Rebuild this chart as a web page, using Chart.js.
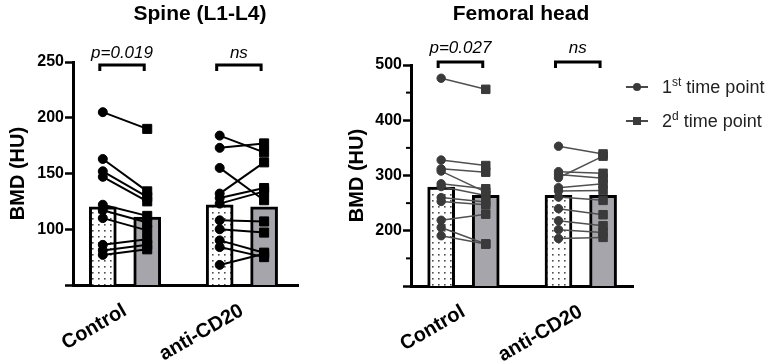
<!DOCTYPE html>
<html>
<head>
<meta charset="utf-8">
<script src="https://cdn.jsdelivr.net/npm/chart.js@4.4.1/dist/chart.umd.min.js"></script>
<style>
html,body{margin:0;padding:0;background:#fff;}
#wrap{position:relative;width:768px;height:364px;overflow:hidden;font-family:"Liberation Sans",Arial,sans-serif;}
#c1{position:absolute;left:0;top:0;}
#c2{position:absolute;left:340px;top:0;}
#legend{position:absolute;left:626px;top:76px;font-size:18px;color:#222;z-index:2;white-space:nowrap;}
.item{display:flex;align-items:center;height:22px;margin-bottom:12px;}
.icon{position:relative;width:22px;height:22px;margin-right:14px;flex:none;}
.icon .ln{position:absolute;left:0;top:10px;width:22px;height:2px;background:#4a4a4a;}
.icon .mk{position:absolute;left:7px;top:7px;width:8px;height:8px;background:#3a3a3a;}
.icon .mk.c{border-radius:50%;}
sup{font-size:12px;vertical-align:7px;line-height:0;}
</style>
</head>
<body>
<div id="wrap">
  <canvas id="c1" width="340" height="364"></canvas>
  <canvas id="c2" width="300" height="364"></canvas>
  <div id="legend">
    <div class="item"><div class="icon"><div class="ln"></div><div class="mk c"></div></div><span>1<sup>st</sup> time point</span></div>
    <div class="item"><div class="icon"><div class="ln"></div><div class="mk"></div></div><span>2<sup>d</sup> time point</span></div>
  </div>
</div>
<script>
// ---------- data ----------
const categories = ['Control', 'anti-CD20'];

// Spine (L1-L4), BMD (HU)
const spineMean1 = [120, 122];
const spineMean2 = [111, 120];
const spineControl1 = [205, 163, 152, 147, 122, 117, 110, 86, 81, 77];
const spineControl2 = [190, 134, 129, 125, 112, 106, 99, 91, 86, 82];
const spineAnti1 = [184, 173, 155, 132, 128, 123, 108, 100, 90, 84, 68];
const spineAnti2 = [169, 177, 126, 160, 137, 134, 107, 97, 79, 75, 78];
const spineSig = ['p=0.019', 'ns'];
const spineTicks = [100, 150, 200, 250];

// Femoral head, BMD (HU)
const femurMean1 = [279, 264];
const femurMean2 = [264, 264];
const femurControl1 = [476, 328, 312, 308, 285, 280, 260, 253, 219, 206, 191];
const femurControl2 = [456, 318, 306, 270, 276, 264, 252, 247, 230, 176, 176];
const femurAnti1 = [353, 307, 302, 296, 278, 272, 261, 240, 218, 202, 186];
const femurAnti2 = [339, 304, 295, 335, 285, 273, 255, 229, 209, 197, 188];
const femurSig = ['p=0.027', 'ns'];
const femurTicks = [200, 300, 400, 500];
const femurMinorTicks = [150, 250, 350, 450];

// ---------- helpers ----------
const FONT = '"Liberation Sans", Arial, sans-serif';
Chart.defaults.font.family = FONT;
const OFF = 0.19;

function dotPattern() {
  const c = document.createElement('canvas');
  c.width = 6; c.height = 6;
  const g = c.getContext('2d');
  g.fillStyle = '#fff'; g.fillRect(0, 0, 6, 6);
  g.fillStyle = '#4d4d4d'; g.fillRect(2, 2, 1.6, 1.6);
  return g.createPattern(c, 'repeat');
}

function buildDatasets(mean1, mean2, groups, st) {
  const ds = [];
  ds.push({
    type: 'bar', label: '1st time point',
    data: mean1.map((v, i) => ({x: i - OFF, y: v})),
    backgroundColor: dotPattern(), borderColor: '#000', borderWidth: 3,
    barThickness: 27, grouped: false, order: 2
  });
  ds.push({
    type: 'bar', label: '2d time point',
    data: mean2.map((v, i) => ({x: i + OFF, y: v})),
    backgroundColor: '#a6a5ab', borderColor: '#000', borderWidth: 3,
    barThickness: 27, grouped: false, order: 2
  });
  groups.forEach(([t1, t2], i) => {
    t1.forEach((v, k) => {
      ds.push({
        type: 'line',
        data: [{x: i - OFF, y: v}, {x: i + OFF, y: t2[k]}],
        borderColor: st.line, borderWidth: st.lineWidth, tension: 0,
        pointStyle: ['circle', 'rect'], pointRadius: st.radius,
        pointBackgroundColor: st.point, pointBorderColor: st.point, pointBorderWidth: 1,
        order: 1
      });
    });
  });
  return ds;
}

const annot = {
  id: 'annot',
  afterDraw(chart, args, o) {
    const {ctx, chartArea, scales: {x, y}} = chart;
    ctx.save();
    ctx.fillStyle = '#000';
    ctx.textAlign = 'center';
    ctx.textBaseline = 'middle';
    ctx.font = 'bold 21px ' + FONT;
    ctx.fillText(o.title, o.titleX, o.titleY);
    o.sig.forEach((txt, i) => {
      const x1 = x.getPixelForValue(i - OFF) - 3;
      const x2 = x.getPixelForValue(i + OFF) - 3;
      const yb = chartArea.top + o.bracketDy;
      ctx.beginPath();
      ctx.lineWidth = 3; ctx.strokeStyle = '#000'; ctx.lineJoin = 'miter';
      ctx.moveTo(x1, yb + 6); ctx.lineTo(x1, yb); ctx.lineTo(x2, yb); ctx.lineTo(x2, yb + 6);
      ctx.stroke();
      ctx.font = 'italic 17px ' + FONT;
      ctx.fillText(txt, (x1 + x2) / 2, yb - o.textGap);
    });
    (o.minor || []).forEach(v => {
      const py = y.getPixelForValue(v);
      ctx.beginPath();
      ctx.lineWidth = 2; ctx.strokeStyle = '#000';
      ctx.moveTo(chartArea.left - 5, py); ctx.lineTo(chartArea.left, py);
      ctx.stroke();
    });
    ctx.restore();
  }
};

function makeChart(id, cfg) {
  return new Chart(document.getElementById(id), {
    type: 'bar',
    data: {datasets: cfg.datasets},
    plugins: [annot],
    options: {
      responsive: false, animation: false, devicePixelRatio: 1,
      layout: {padding: {top: cfg.padTop, right: cfg.padRight, left: 0, bottom: 0}},
      plugins: {legend: {display: false}, tooltip: {enabled: false}, annot: cfg.annot},
      scales: {
        x: {
          type: 'linear', min: cfg.xMin, max: cfg.xMax, offset: false,
          afterBuildTicks: s => { s.ticks = categories.map((_, i) => ({value: i})); },
          afterFit: s => { s.height = cfg.xHeight; },
          grid: {display: false, drawTicks: false},
          border: {display: true, color: '#000', width: 3},
          ticks: {
            autoSkip: false, minRotation: 30, maxRotation: 30, padding: 14, color: '#000',
            font: {size: 20, weight: 'bold'},
            callback: v => categories[Math.round(v)] ?? ''
          }
        },
        y: {
          min: cfg.yMin, max: cfg.yMax,
          afterBuildTicks: s => { s.ticks = [cfg.yMin, ...cfg.yTicks].map(v => ({value: v})); },
          afterFit: s => { s.width = cfg.yWidth; },
          grid: {drawOnChartArea: false, drawTicks: true, tickLength: 8, tickWidth: 2.5, tickColor: '#000'},
          border: {display: true, color: '#000', width: 3},
          ticks: {
            padding: 1, color: '#000', font: {size: 16, weight: 'bold'},
            callback: v => cfg.yTicks.includes(v) ? String(v) : ''
          },
          title: {display: true, text: 'BMD (HU)', color: '#000',
                  font: {size: 20, weight: 'bold'}, padding: {top: cfg.titlePad, bottom: 0}}
        }
      }
    }
  });
}

makeChart('c1', {
  datasets: buildDatasets(spineMean1, spineMean2,
    [[spineControl1, spineControl2], [spineAnti1, spineAnti2]],
    {line: '#000', lineWidth: 2, point: '#000', radius: [4.5, 6.4]}),
  padTop: 62, padRight: 42, xHeight: 79, yWidth: 73, titlePad: 6,
  xMin: -0.445, xMax: 1.48, yMin: 50, yMax: 250, yTicks: spineTicks,
  annot: {title: 'Spine (L1-L4)', titleX: 200, titleY: 14, sig: spineSig, bracketDy: 3, textGap: 12}
});

makeChart('c2', {
  datasets: buildDatasets(femurMean1, femurMean2,
    [[femurControl1, femurControl2], [femurAnti1, femurAnti2]],
    {line: '#505050', lineWidth: 1.5, point: '#3a3a3a', radius: [4.2, 6]}),
  padTop: 65, padRight: 7, xHeight: 78, yWidth: 71, titlePad: 5,
  xMin: -0.447, xMax: 1.445, yMin: 100, yMax: 500, yTicks: femurTicks,
  annot: {title: 'Femoral head', titleX: 181, titleY: 14, sig: femurSig, bracketDy: -3, textGap: 14, minor: femurMinorTicks}
});
</script>
</body>
</html>
